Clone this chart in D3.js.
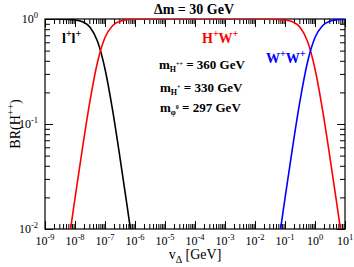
<!DOCTYPE html>
<html>
<head>
<meta charset="utf-8">
<script src="https://cdn.jsdelivr.net/npm/d3@7"></script>
<style>
  body { margin: 0; background: #fff; }
  text { font-family: "Liberation Serif", "DejaVu Serif", serif; }
</style>
</head>
<body>
<div id="container"></div>
<script>
"use strict";

// values: log10(v) and BR
const llX = [-9, -8.5, -8, -7.75, -7.5, -7.25, -7, -6.75, -6.5, -6.25, -6];
const llY = [0.9998, 0.998, 0.980, 0.941, 0.834, 0.613, 0.334, 0.137, 0.0477, 0.0156, 0.005];

const hwX = [-8.5, -8.25, -8, -7.75, -7.5, -7.25, -7, -6.75, -6.5, -6, -5, -3, -2, -1.5, -1, -0.75, -0.5, -0.25, 0, 0.25, 0.5, 0.75, 1];
const hwY = [0.002, 0.0063, 0.0196, 0.0593, 0.166, 0.387, 0.666, 0.863, 0.952, 0.995, 0.9995, 0.9999, 0.9998, 0.998, 0.980, 0.941, 0.834, 0.613, 0.334, 0.137, 0.0477, 0.0156, 0.005];

const wwX = [-1.5, -1.25, -1, -0.75, -0.5, -0.25, 0, 0.25, 0.5, 0.75, 1];
const wwY = [0.002, 0.0063, 0.0196, 0.0593, 0.166, 0.387, 0.666, 0.863, 0.952, 0.984, 0.995];

const xExponents = [-9, -8, -7, -6, -5, -4, -3, -2, -1, 0, 1];
const yExponents = [-2, -1, 0];

const margin = { top: 19, right: 9, bottom: 38, left: 45 };
const width = 354 - margin.left - margin.right;
const height = 267 - margin.top - margin.bottom;

const svg = d3.select("#container")
  .append("svg")
  .attr("width", 354)
  .attr("height", 267);

const g = svg.append("g")
  .attr("transform", `translate(${margin.left},${margin.top})`);

const x = d3.scaleLog().domain([1e-9, 1e1]).range([0, width]);
const y = d3.scaleLog().domain([1e-2, 1]).range([height, 0]);

g.append("clipPath").attr("id", "clip")
  .append("rect").attr("width", width).attr("height", height);

const makeTicks = (lo, hi) => {
  let major = [], minor = [];
  for (let e = lo; e <= hi; e++) {
    major.push(Math.pow(10, e));
    if (e < hi) {
      for (let k = 2; k <= 9; k++) minor.push(k * Math.pow(10, e));
    }
  }
  return { major, minor };
};

const xt = makeTicks(-9, 1);
const yt = makeTicks(-2, 0);

const addAxis = (axisFn, scale, values, size, transform) => {
  g.append("g")
    .attr("transform", transform)
    .call(axisFn(scale).tickValues(values).tickSize(size).tickFormat(""))
    .call(s => s.select(".domain").remove())
    .call(s => s.selectAll("line").attr("stroke", "#000").attr("stroke-width", 1));
};

addAxis(d3.axisBottom, x, xt.major, -8, `translate(0,${height})`);
addAxis(d3.axisBottom, x, xt.minor, -5, `translate(0,${height})`);
addAxis(d3.axisTop, x, xt.major, -8, "translate(0,0)");
addAxis(d3.axisTop, x, xt.minor, -5, "translate(0,0)");
addAxis(d3.axisLeft, y, yt.major, -8, "translate(0,0)");
addAxis(d3.axisLeft, y, yt.minor, -5, "translate(0,0)");
addAxis(d3.axisRight, y, yt.major, -8, `translate(${width},0)`);
addAxis(d3.axisRight, y, yt.minor, -5, `translate(${width},0)`);

g.append("rect")
  .attr("width", width).attr("height", height)
  .attr("fill", "none").attr("stroke", "#000").attr("stroke-width", 1.2);

const line = d3.line()
  .x(d => x(Math.pow(10, d[0])))
  .y(d => y(d[1]))
  .curve(d3.curveMonotoneX);

const series = [
  { xs: llX, ys: llY, color: "#000" },
  { xs: hwX, ys: hwY, color: "#ff0000" },
  { xs: wwX, ys: wwY, color: "#0000ff" }
];

series.forEach(s => {
  g.append("path")
    .datum(s.xs.map((v, i) => [v, s.ys[i]]))
    .attr("clip-path", "url(#clip)")
    .attr("d", line)
    .attr("fill", "none")
    .attr("stroke", s.color)
    .attr("stroke-width", 1.6);
});

// tick labels 10^n
xExponents.forEach(e => {
  const t = g.append("text")
    .attr("x", x(Math.pow(10, e)))
    .attr("y", height + 16)
    .attr("text-anchor", "middle")
    .attr("font-size", 12);
  t.append("tspan").text("10");
  t.append("tspan").attr("dy", -5).attr("font-size", 8.5).text(e);
});

yExponents.forEach(e => {
  const t = g.append("text")
    .attr("x", -7)
    .attr("y", y(Math.pow(10, e)) + 4)
    .attr("text-anchor", "end")
    .attr("font-size", 12);
  t.append("tspan").text("10");
  t.append("tspan").attr("dy", -5).attr("font-size", 8.5).text(e);
});

// axis titles
const xl = svg.append("text")
  .attr("x", 195).attr("y", 259)
  .attr("text-anchor", "middle")
  .attr("font-size", 14);
xl.append("tspan").text("v");
xl.append("tspan").attr("dy", 4).attr("font-size", 10).text("Δ");
xl.append("tspan").attr("dy", -4).text(" [GeV]");

const yl = svg.append("text")
  .attr("transform", "translate(20,124) rotate(-90)")
  .attr("text-anchor", "middle")
  .attr("font-size", 14);
yl.append("tspan").text("BR(H");
yl.append("tspan").attr("dy", -6).attr("font-size", 10).text("++");
yl.append("tspan").attr("dy", 6).text(")");

svg.append("text")
  .attr("x", 194).attr("y", 14)
  .attr("text-anchor", "middle")
  .attr("font-size", 14)
  .attr("font-weight", "bold")
  .text("Δm = 30 GeV");

// curve labels: letter followed by a superscript +
const supLabel = (px, py, parts, color) => {
  const t = svg.append("text")
    .attr("x", px).attr("y", py)
    .attr("font-size", 14)
    .attr("font-weight", "bold")
    .attr("fill", color);
  parts.forEach((p, i) => {
    t.append("tspan").attr("dy", i === 0 ? 0 : 6).text(p);
    t.append("tspan").attr("dy", -6).attr("font-size", 10).text("+");
  });
};

supLabel(62, 43, ["l", "l"], "#000");
supLabel(202, 43, ["H", "W"], "#ff0000");
supLabel(266, 63, ["W", "W"], "#0000ff");

// mass labels
const massLabel = (px, py, sub, sup, rest) => {
  const t = svg.append("text")
    .attr("x", px).attr("y", py)
    .attr("font-size", 13)
    .attr("font-weight", "bold");
  t.append("tspan").text("m");
  t.append("tspan").attr("dy", 3).attr("font-size", 8).text(sub);
  t.append("tspan").attr("dy", -6).attr("font-size", 6).text(sup);
  t.append("tspan").attr("dy", 3).text(rest);
};

massLabel(159, 69, "H", "++", " = 360 GeV");
massLabel(160, 92, "H", "+", " = 330 GeV");
massLabel(160, 112, "φ", "0", " = 297 GeV");
</script>
</body>
</html>
